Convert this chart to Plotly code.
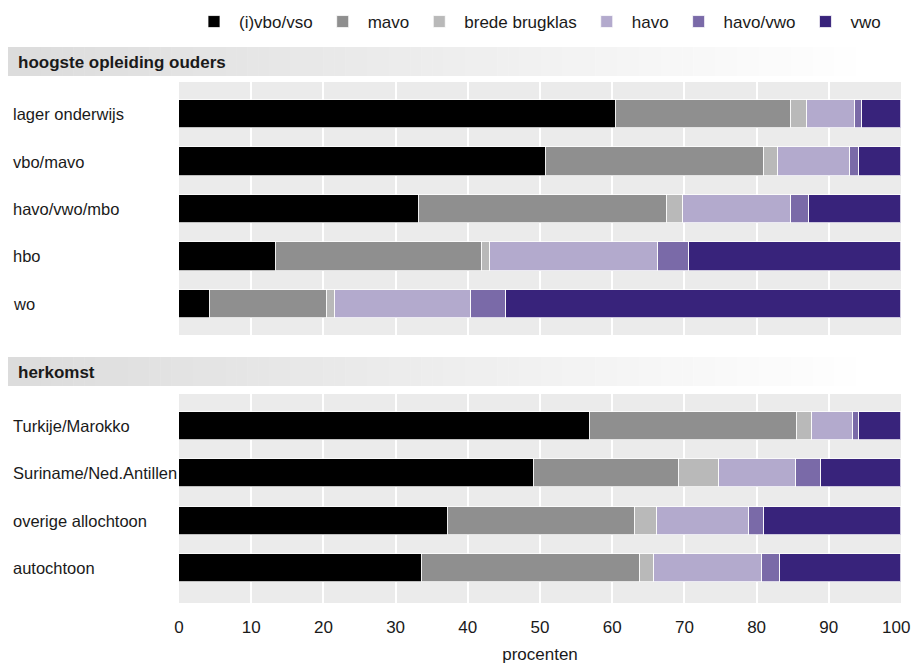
import plotly.graph_objects as go
from plotly.subplots import make_subplots

levels = ["(i)vbo/vso", "mavo", "brede brugklas", "havo", "havo/vwo", "vwo"]
colors = ["#000000", "#8f8f8f", "#b9b9b9", "#b3aacd", "#7a6aa8", "#38237b"]

group1_title = "hoogste opleiding ouders"
group1_cats = ["lager onderwijs", "vbo/mavo", "havo/vwo/mbo", "hbo", "wo"]
group1_vals = {
    "(i)vbo/vso":     [60.5, 50.8, 33.3, 13.4, 4.3],
    "mavo":           [24.3, 30.2, 34.3, 28.6, 16.2],
    "brede brugklas": [2.2, 2.0, 2.2, 1.1, 1.1],
    "havo":           [6.6, 10.0, 15.0, 23.2, 18.8],
    "havo/vwo":       [1.0, 1.2, 2.5, 4.3, 4.9],
    "vwo":            [5.4, 5.8, 12.7, 29.4, 54.7],
}

group2_title = "herkomst"
group2_cats = ["Turkije/Marokko", "Suriname/Ned.Antillen", "overige allochtoon", "autochtoon"]
group2_vals = {
    "(i)vbo/vso":     [56.9, 49.2, 37.3, 33.7],
    "mavo":           [28.7, 20.1, 25.8, 30.2],
    "brede brugklas": [2.1, 5.5, 3.1, 1.9],
    "havo":           [5.7, 10.6, 12.8, 14.9],
    "havo/vwo":       [0.8, 3.5, 2.0, 2.6],
    "vwo":            [5.8, 11.1, 19.0, 16.7],
}

x_ticks = [0, 10, 20, 30, 40, 50, 60, 70, 80, 90, 100]
x_ticklabels = ["0", "10", "20", "30", "40", "50", "60", "70", "80", "90", "100"]
x_title = "procenten"

FONT = "Liberation Sans, Arial, sans-serif"
TXT = "#1a1a1a"

W, H = 912, 666
ML, MR, MT, MB = 179, 11, 82, 63
PW, PH = W - ML - MR, H - MT - MB

def px_x(px):
    return (px - ML) / PW

def px_y(py):
    return (H - MB - py) / PH

fig = make_subplots(rows=2, cols=1, shared_xaxes=True)

for i, lvl in enumerate(levels):
    fig.add_trace(go.Bar(
        y=group1_cats, x=group1_vals[lvl], name=lvl, orientation="h",
        marker=dict(color=colors[i], line=dict(color="rgba(255,255,255,0.75)", width=1)),
        width=0.59, legendgroup=lvl, showlegend=True,
    ), row=1, col=1)
    fig.add_trace(go.Bar(
        y=group2_cats, x=group2_vals[lvl], name=lvl, orientation="h",
        marker=dict(color=colors[i], line=dict(color="rgba(255,255,255,0.75)", width=1)),
        width=0.59, legendgroup=lvl, showlegend=False,
    ), row=2, col=1)

top1 = px_y(335)
bot2 = px_y(394)

# the last tick label is drawn as an annotation nudged left so it stays inside the page
axis_ticktext = x_ticklabels[:-1] + [""]

fig.update_layout(
    width=W, height=H,
    margin=dict(l=ML, r=MR, t=MT, b=MB, autoexpand=False),
    barmode="stack",
    plot_bgcolor="#ebebeb",
    paper_bgcolor="white",
    font=dict(family=FONT, size=17, color=TXT),
    legend=dict(orientation="h", x=px_x(189), xanchor="left", y=px_y(22),
                yanchor="middle", font=dict(size=17), traceorder="normal",
                itemwidth=40, bgcolor="rgba(0,0,0,0)"),
    xaxis=dict(range=[0, 100], tickvals=x_ticks, showticklabels=False,
               showgrid=True, gridcolor="white", gridwidth=1.5, zeroline=False),
    xaxis2=dict(range=[0, 100], tickvals=x_ticks, ticktext=axis_ticktext,
                showgrid=True, gridcolor="white",
                gridwidth=1.5, zeroline=False, ticks="", ticklabelstandoff=12,
                ticklabeloverflow="allow",
                tickfont=dict(size=17), automargin=False,
                title=dict(text=x_title, font=dict(size=17), standoff=12)),
    yaxis=dict(domain=[top1, 1], type="category", categoryorder="array",
               categoryarray=group1_cats, range=[4.653, -0.674], automargin=False,
               showticklabels=False, showgrid=False, zeroline=False),
    yaxis2=dict(domain=[0, bot2], type="category", categoryorder="array",
                categoryarray=group2_cats, range=[3.74, -0.677], automargin=False,
                showticklabels=False, showgrid=False, zeroline=False),
    bargap=0,
)

fig.add_annotation(text=x_ticklabels[-1], x=x_ticks[-1], xref="x2", xanchor="center",
                   xshift=-5, y=px_y(627), yref="paper", yanchor="middle",
                   showarrow=False, font=dict(size=17, color=TXT))

# category labels, left-aligned
for c in group1_cats:
    fig.add_annotation(text=c, x=px_x(11), xref="paper", xanchor="left",
                       y=c, yref="y", showarrow=False, font=dict(size=16.5, color=TXT))
for c in group2_cats:
    fig.add_annotation(text=c, x=px_x(11), xref="paper", xanchor="left",
                       y=c, yref="y2", showarrow=False, font=dict(size=16.5, color=TXT))

# section header bands with gradient
def band(y0, y1, x0=8, x1=878, n=80):
    c0, c1 = 0xdc, 0xff
    step = (x1 - x0) / n
    for k in range(n):
        t = k / (n - 1)
        v = int(round(c0 + (c1 - c0) * t))
        col = f"rgb({v},{v},{v})"
        fig.add_shape(type="rect", xref="paper", yref="paper",
                      x0=px_x(x0 + k * step), x1=px_x(x0 + (k + 1) * step + 0.5),
                      y0=px_y(y1), y1=px_y(y0), fillcolor=col,
                      line=dict(width=0), layer="below")

band(47, 76)
band(357, 386)

fig.add_annotation(text=f"<b>{group1_title}</b>", x=px_x(16), xref="paper", xanchor="left",
                   y=px_y(62), yref="paper", yanchor="middle", showarrow=False,
                   font=dict(size=17, color=TXT))
fig.add_annotation(text=f"<b>{group2_title}</b>", x=px_x(16), xref="paper", xanchor="left",
                   y=px_y(372), yref="paper", yanchor="middle", showarrow=False,
                   font=dict(size=17, color=TXT))

fig.write_html("out.html", config={"displayModeBar": False},
               post_script="document.body.style.margin='0';document.body.style.padding='0';")
